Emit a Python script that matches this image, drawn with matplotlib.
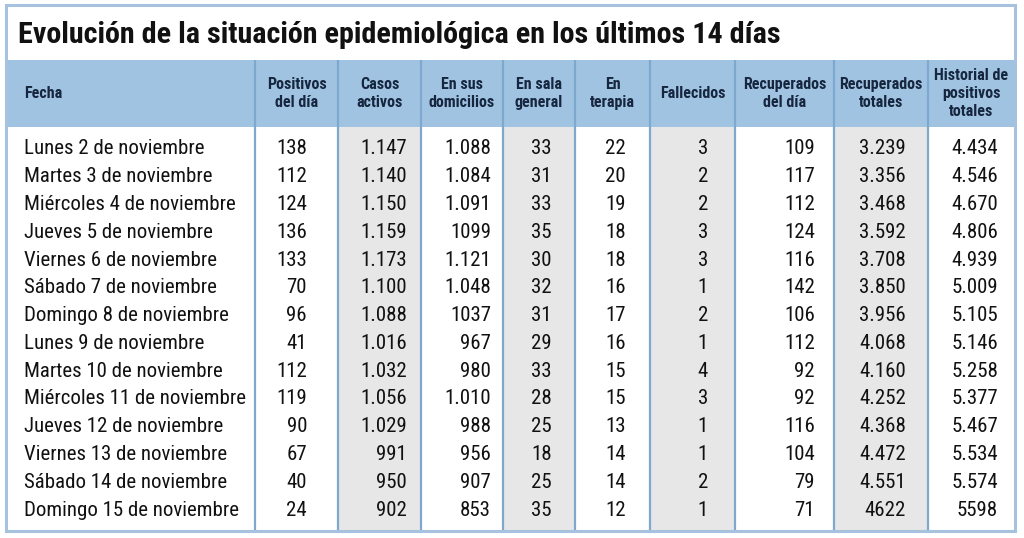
import matplotlib
matplotlib.use("Agg")
import matplotlib.pyplot as plt
from matplotlib.patches import Rectangle

title = "Evolución de la situación epidemiológica en los últimos 14 días"

headers = ["Fecha", "Positivos\ndel día", "Casos\nactivos", "En sus\ndomicilios",
           "En sala\ngeneral", "En\nterapia", "Fallecidos", "Recuperados\ndel día",
           "Recuperados\ntotales", "Historial de\npositivos\ntotales"]

fechas = ["Lunes 2 de noviembre", "Martes 3 de noviembre", "Miércoles 4 de noviembre",
          "Jueves 5 de noviembre", "Viernes 6 de noviembre", "Sábado 7 de noviembre",
          "Domingo 8 de noviembre", "Lunes 9 de noviembre", "Martes 10 de noviembre",
          "Miércoles 11 de noviembre", "Jueves 12 de noviembre", "Viernes 13 de noviembre",
          "Sábado 14 de noviembre", "Domingo 15 de noviembre"]
positivos = ["138", "112", "124", "136", "133", "70", "96", "41", "112", "119", "90", "67", "40", "24"]
casos_activos = ["1.147", "1.140", "1.150", "1.159", "1.173", "1.100", "1.088", "1.016",
                 "1.032", "1.056", "1.029", "991", "950", "902"]
domicilios = ["1.088", "1.084", "1.091", "1099", "1.121", "1.048", "1037", "967",
              "980", "1.010", "988", "956", "907", "853"]
sala_general = ["33", "31", "33", "35", "30", "32", "31", "29", "33", "28", "25", "18", "25", "35"]
terapia = ["22", "20", "19", "18", "18", "16", "17", "16", "15", "15", "13", "14", "14", "12"]
fallecidos = ["3", "2", "2", "3", "3", "1", "2", "1", "4", "3", "1", "1", "2", "1"]
recuperados_dia = ["109", "117", "112", "124", "116", "142", "106", "112", "92", "92",
                   "116", "104", "79", "71"]
recuperados_totales = ["3.239", "3.356", "3.468", "3.592", "3.708", "3.850", "3.956", "4.068",
                       "4.160", "4.252", "4.368", "4.472", "4.551", "4622"]
historial = ["4.434", "4.546", "4.670", "4.806", "4.939", "5.009", "5.105", "5.146",
             "5.258", "5.377", "5.467", "5.534", "5.574", "5598"]

columns = [positivos, casos_activos, domicilios, sala_general, terapia, fallecidos,
           recuperados_dia, recuperados_totales, historial]

# layout (pixel coordinates)
W, H = 1024, 538
bounds = [6, 255, 338, 421, 503, 575, 650, 735, 834, 928, 1015]
right_edges = [307, 407, 491, 552, 626, 708, 815, 906, 998]
shaded = [2, 4, 6, 8]  # column indices (0 = Fecha)
top, head_top, head_bot, bottom = 5, 60, 127, 531
row_base0, row_step = 154.5, 27.77
head_base, head_step = 98, 18.5

FAM = ["Roboto Condensed", "DejaVu Sans"]
header_bg = "#a0c3e2"
line_col = "#7fa8cf"
frame_col = "#a6c2de"
shade_col = "#e7e7e7"
head_txt = "#17263f"
txt = "#111111"

fig = plt.figure(figsize=(W / 100, H / 100), dpi=100)
ax = fig.add_axes([0, 0, 1, 1])
ax.set_xlim(0, W)
ax.set_ylim(H, 0)
ax.axis("off")

ax.add_patch(Rectangle((0, 0), W, H, facecolor="white", edgecolor="none", zorder=0))
ax.add_patch(Rectangle((bounds[0], head_top), bounds[-1] - bounds[0], head_bot - head_top,
                       facecolor=header_bg, edgecolor="none", zorder=1))
for c in shaded:
    ax.add_patch(Rectangle((bounds[c], head_bot), bounds[c + 1] - bounds[c], bottom - head_bot,
                           facecolor=shade_col, edgecolor="none", zorder=1))
for x in bounds[1:-1]:
    ax.plot([x, x], [head_top, bottom], color=line_col, lw=1.6, zorder=2,
            solid_capstyle="butt")
ax.add_patch(Rectangle((bounds[0], top), bounds[-1] - bounds[0], bottom - top,
                       facecolor="none", edgecolor=frame_col, lw=2.2, zorder=3))

# title
ax.text(18, 43, title, ha="left", va="baseline", fontsize=21.7, fontweight="bold",
        family=FAM, fontstretch="condensed", color=txt, zorder=4)

# headers (one text per line, centred vertically in the band)
for i, h in enumerate(headers):
    parts = h.split("\n")
    n = len(parts)
    for k, p in enumerate(parts):
        yb = head_base + (k - (n - 1) / 2) * head_step
        if i == 0:
            ax.text(24, yb, p, ha="left", va="baseline", fontsize=11.5, fontweight="bold",
                    family=FAM, fontstretch="condensed", color=head_txt, zorder=4)
        else:
            cx = (bounds[i] + bounds[i + 1]) / 2
            ax.text(cx, yb, p, ha="center", va="baseline", fontsize=11.5, fontweight="bold",
                    family=FAM, fontstretch="condensed", color=head_txt, zorder=4)

# body
for r, f in enumerate(fechas):
    y = row_base0 + r * row_step
    ax.text(24, y, f, ha="left", va="baseline", fontsize=15, family=FAM,
            fontstretch="condensed", color=txt, zorder=4)
    for c, col in enumerate(columns):
        ax.text(right_edges[c], y, col[r], ha="right", va="baseline", fontsize=15,
                family=FAM, fontstretch="condensed", color=txt, zorder=4)

fig.savefig("out.png", dpi=100)
